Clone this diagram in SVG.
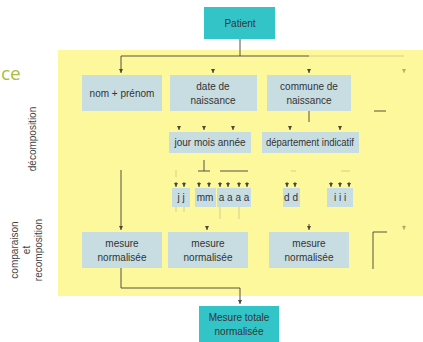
<svg xmlns="http://www.w3.org/2000/svg" width="423" height="342" viewBox="0 0 423 342">
  <defs>
    <marker id="arr" markerWidth="4" markerHeight="4" refX="4" refY="2" orient="auto" markerUnits="userSpaceOnUse" viewBox="0 0 4 4">
      <path d="M0,0 L4,2 L0,4 Z" fill="#4a4a3a"/>
    </marker>
    <marker id="arrFaint" markerWidth="4" markerHeight="4" refX="4" refY="2" orient="auto" markerUnits="userSpaceOnUse" viewBox="0 0 4 4">
      <path d="M0,0 L4,2 L0,4 Z" fill="#b8ac6a"/>
    </marker>
    <style>
      .band { fill: #fdf89c; }
      .box { fill: #c8dde2; }
      .key { fill: #33c4c8; }
      .t { font-family: "Liberation Sans", Arial, sans-serif; font-size: 10px; fill: #333; text-anchor: middle; }
      .side { font-family: "Liberation Sans", Arial, sans-serif; font-size: 10px; fill: #444; text-anchor: middle; }
      .ln { stroke: #55533f; stroke-width: 1; fill: none; }
      .faint { stroke: #d8cf88; stroke-width: 1; fill: none; }
      .a { marker-end: url(#arr); }
      .af { marker-end: url(#arrFaint); }
    </style>
  </defs>

  <rect width="423" height="342" fill="#ffffff"/>

  <!-- yellow working area -->
  <rect class="band" x="58" y="50" width="365" height="246"/>

  <!-- left labels -->
  <text x="1" y="80" font-family="'Open Sans', 'Liberation Sans', sans-serif" font-size="19" fill="#a8c040">ce</text>
  <text class="side" transform="translate(36,139) rotate(-90)">décomposition</text>
  <g transform="translate(27,250) rotate(-90)">
    <text class="side" x="0" y="-9">comparaison</text>
    <text class="side" x="0" y="3">et</text>
    <text class="side" x="0" y="15">recomposition</text>
  </g>

  <!-- connectors -->
  <g id="connectors">
    <path class="ln" d="M240,39 V56"/>
    <path class="ln" d="M121,56 H309"/>
    <path class="faint" d="M309,56 H404"/>
    <path class="ln a" d="M121,56 V73"/>
    <path class="ln a" d="M213,69 V73"/>
    <path class="ln a" d="M309,69 V73"/>
    <path class="faint af" d="M404,69 V73"/>
    <path class="ln" d="M374,111 H386"/>

    <path class="ln" d="M309,111 V122"/>
    <path class="ln a" d="M179,126 V130"/>
    <path class="ln a" d="M204,126 V130"/>
    <path class="ln a" d="M233,126 V130"/>
    <path class="ln a" d="M290,126 V130"/>
    <path class="ln a" d="M340,126 V130"/>

    <path class="faint" d="M176,170 V177"/>
    <path class="ln" d="M204,160 V171 M198,171 H210"/>
    <path class="ln" d="M220,171 H248"/>
    <path class="faint" d="M291,171 H296"/>
    <path class="faint" d="M341,171 H350"/>

    <path class="ln a" d="M176,182 V187"/>
    <path class="ln a" d="M184,182 V187"/>
    <path class="ln a" d="M199,182 V187"/>
    <path class="ln a" d="M209,182 V187"/>
    <path class="ln a" d="M220,182 V187"/>
    <path class="ln a" d="M228,182 V187"/>
    <path class="ln a" d="M239,182 V187"/>
    <path class="ln a" d="M247,182 V187"/>
    <path class="ln a" d="M287,182 V187"/>
    <path class="ln a" d="M295,182 V187"/>
    <path class="ln a" d="M331,182 V187"/>
    <path class="ln a" d="M340,182 V187"/>
    <path class="ln a" d="M349,182 V187"/>

    <path class="faint" d="M176,207 V212 M184,207 V212"/>
    <path class="faint" d="M220,207 V219 M239,207 V219"/>

    <path class="ln a" d="M121,170 V230"/>
    <path class="ln a" d="M207,226 V230"/>
    <path class="ln a" d="M309,224 V230"/>
    <path class="faint af" d="M404,225 V230"/>
    <path class="ln" d="M373,269 V232 H387"/>

    <path class="ln" d="M121,268 V288 H240"/>
    <path class="ln a" d="M240,288 V304"/>
  </g>

  <!-- nodes -->
  <g id="patient">
    <rect class="key" x="204" y="7" width="71" height="32"/>
    <text class="t" x="240" y="27">Patient</text>
  </g>

  <g id="nom-prenom">
    <rect class="box" x="82" y="75" width="80" height="36"/>
    <text class="t" x="122" y="97">nom + prénom</text>
  </g>
  <g id="date-naissance">
    <rect class="box" x="170" y="75" width="87" height="36"/>
    <text class="t" x="213" y="90">date de</text>
    <text class="t" x="213" y="104">naissance</text>
  </g>
  <g id="commune-naissance">
    <rect class="box" x="267" y="75" width="84" height="36"/>
    <text class="t" x="309" y="90">commune de</text>
    <text class="t" x="309" y="104">naissance</text>
  </g>

  <g id="jour-mois-annee">
    <rect class="box" x="169" y="132" width="82" height="21"/>
    <text class="t" x="210" y="146">jour  mois  année</text>
  </g>
  <g id="departement-indicatif">
    <rect class="box" x="262" y="132" width="97" height="21"/>
    <text class="t" x="310" y="146" textLength="88" lengthAdjust="spacingAndGlyphs">département indicatif</text>
  </g>

  <g id="jj">
    <rect class="box" x="172" y="188" width="18" height="19"/>
    <text class="t" x="181" y="201">j  j</text>
  </g>
  <g id="mm">
    <rect class="box" x="195" y="188" width="21" height="19"/>
    <text class="t" x="205" y="201">mm</text>
  </g>
  <g id="aaaa">
    <rect class="box" x="217" y="188" width="34" height="19"/>
    <text class="t" x="234" y="201">a a a a</text>
  </g>
  <g id="dd">
    <rect class="box" x="283" y="188" width="17" height="19"/>
    <text class="t" x="291" y="201">d d</text>
  </g>
  <g id="iii">
    <rect class="box" x="327" y="188" width="26" height="19"/>
    <text class="t" x="340" y="201">i  i  i</text>
  </g>

  <g id="mesure-1">
    <rect class="box" x="82" y="232" width="80" height="36"/>
    <text class="t" x="122" y="247">mesure</text>
    <text class="t" x="122" y="261">normalisée</text>
  </g>
  <g id="mesure-2">
    <rect class="box" x="168" y="232" width="80" height="36"/>
    <text class="t" x="208" y="247">mesure</text>
    <text class="t" x="208" y="261">normalisée</text>
  </g>
  <g id="mesure-3">
    <rect class="box" x="269" y="232" width="80" height="36"/>
    <text class="t" x="309" y="247">mesure</text>
    <text class="t" x="309" y="261">normalisée</text>
  </g>

  <g id="mesure-totale">
    <rect class="key" x="199" y="306" width="80" height="36"/>
    <text class="t" x="239" y="321">Mesure totale</text>
    <text class="t" x="239" y="335">normalisée</text>
  </g>
</svg>
